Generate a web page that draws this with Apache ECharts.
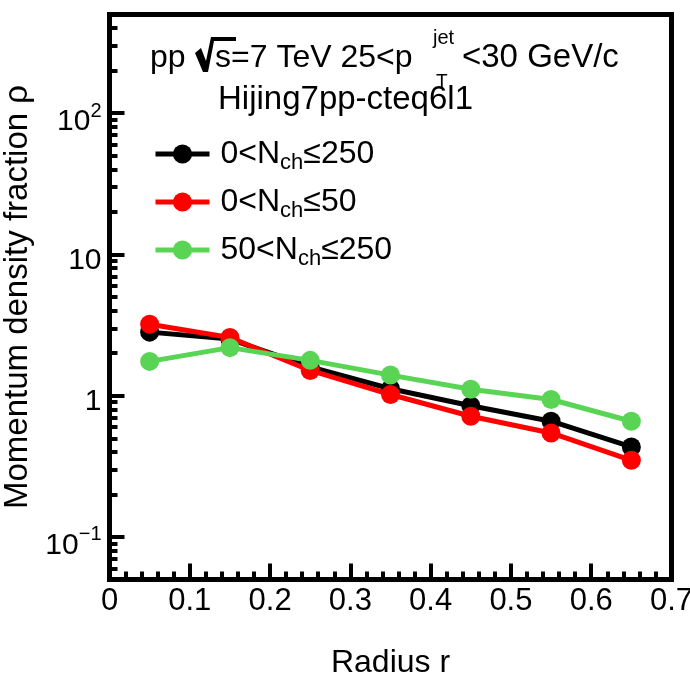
<!DOCTYPE html>
<html><head><meta charset="utf-8">
<script src="https://cdn.jsdelivr.net/npm/echarts@6/dist/echarts.min.js"></script>
<style>html,body{margin:0;padding:0;background:#fff}#c{width:690px;height:675px}</style>
</head><body><div id="c"></div>
<script>
// ---- data ----
const radius = [0.05, 0.15, 0.25, 0.35, 0.45, 0.55, 0.65];
const rhoAll  = [2.82, 2.52, 1.60, 1.12, 0.85, 0.66, 0.434];   // 0<Nch<=250
const rhoLow  = [3.21, 2.58, 1.51, 1.02, 0.716, 0.545, 0.349]; // 0<Nch<=50
const rhoHigh = [1.75, 2.19, 1.78, 1.40, 1.11, 0.94, 0.66];    // 50<Nch<=250
const seriesNames = ['0<Nch≤250', '0<Nch≤50', '50<Nch≤250'];
const legendLabels = ['0<N{sub|ch}≤250', '0<N{sub|ch}≤50', '50<N{sub|ch}≤250'];
const seriesColors = ['#000000', '#ff0000', '#59d454'];
const yMajorTicks = [0.1, 1, 10, 100];
const yMinorTicks = [0.05, 0.06, 0.07, 0.08, 0.09,
  0.2, 0.3, 0.4, 0.5, 0.6, 0.7, 0.8, 0.9,
  2, 3, 4, 5, 6, 7, 8, 9,
  20, 30, 40, 50, 60, 70, 80, 90,
  200, 300, 400, 500];
const yTickLabels = {'-1': '{m2|10}{sup|−1}', '0': '{m|1}', '1': '{m|10}', '2': '{m2|10}{sup|2}'};

const FONT = 'Liberation Sans';
const chart = echarts.init(document.getElementById('c'), null, {renderer: 'canvas'});

function pairs(ys) { return radius.map((x, i) => [x, ys[i]]); }
const allSeries = [rhoAll, rhoLow, rhoHigh].map((ys, i) => ({
  name: seriesNames[i],
  type: 'line',
  data: pairs(ys),
  symbol: 'circle',
  symbolSize: 19,
  showSymbol: true,
  lineStyle: {width: 5, color: seriesColors[i]},
  itemStyle: {color: seriesColors[i]},
  emphasis: {disabled: true},
  z: 3 + i
}));

const legendMap = {};
seriesNames.forEach((n, i) => legendMap[n] = legendLabels[i]);

function txt(x, y, s, size) {
  return {type: 'text', x: x, y: y, style: {text: s, font: size + 'px "Liberation Sans"', fill: '#000', align: 'left', verticalAlign: 'middle'}};
}

chart.setOption({
  animation: false,
  backgroundColor: '#fff',
  grid: {
    left: 109.5, right: 18.5, top: 14.5, bottom: 95.5,
    show: true, borderColor: '#000', borderWidth: 5, backgroundColor: 'transparent',
    outerBoundsMode: 'none'
  },
  legend: {
    orient: 'vertical', left: 153, top: 138, padding: 0,
    itemWidth: 54, itemHeight: 24, itemGap: 12,
    data: seriesNames,
    formatter: n => legendMap[n],
    lineStyle: {width: 5},
    textStyle: {
      fontFamily: FONT, fontSize: 32, color: '#000', padding: [0, 0, 0, 6],
      rich: {sub: {fontFamily: FONT, fontSize: 22, color: '#000', padding: [18, 0, 0, 0]}}
    },
    selectedMode: false
  },
  xAxis: {
    type: 'value', min: 0, max: 0.7, interval: 0.1,
    axisLine: {show: true, onZero: false, lineStyle: {color: '#000', width: 5}},
    axisTick: {show: true, inside: true, length: 16, lineStyle: {color: '#000', width: 4}},
    minorTick: {show: true, splitNumber: 5, length: 8, lineStyle: {color: '#000', width: 4}},
    splitLine: {show: false},
    axisLabel: {
      fontFamily: FONT, fontSize: 31, color: '#000', margin: 6,
      formatter: v => (Math.abs(v) < 1e-9 ? '0' : v.toFixed(1))
    },
    name: 'Radius r', nameLocation: 'middle', nameGap: 68,
    nameTextStyle: {fontFamily: FONT, fontSize: 32, color: '#000'}
  },
  yAxis: [{
    type: 'log', logBase: 10, min: 0.05, max: 500,
    axisLine: {show: true, onZero: false, lineStyle: {color: '#000', width: 5}},
    axisTick: {show: true, inside: true, length: 15, customValues: yMajorTicks, lineStyle: {color: '#000', width: 4}},
    splitLine: {show: false},
    axisLabel: {
      customValues: yMajorTicks, margin: 8, color: '#000',
      formatter: v => yTickLabels[String(Math.round(Math.log10(v)))] || '',
      rich: {
        m: {fontFamily: FONT, fontSize: 30, color: '#000', padding: [12, 0, 0, 0]},
        m2: {fontFamily: FONT, fontSize: 30, color: '#000', padding: [18, 0, 0, 0]},
        sup: {fontFamily: FONT, fontSize: 20, color: '#000', padding: [0, 0, 4, 0]}
      }
    },
    name: 'Momentum density fraction ρ', nameLocation: 'middle', nameGap: 72,
    nameTextStyle: {fontFamily: FONT, fontSize: 33, color: '#000'}
  }, {
    type: 'log', logBase: 10, min: 0.05, max: 500, position: 'left',
    axisLine: {show: false},
    axisTick: {show: true, inside: true, length: 8, customValues: yMinorTicks, lineStyle: {color: '#000', width: 4}},
    axisLabel: {show: false},
    splitLine: {show: false}
  }],
  series: allSeries,
  graphic: [
    txt(150, 58, 'pp', 32),
    {type: 'polygon', shape: {points: [[195, 53], [201, 48], [206, 61], [211, 37], [236, 37], [236, 41], [214, 41], [208, 72], [203, 72]]}, style: {fill: '#000'}},
    txt(215, 58, 's=7 TeV 25<p', 32),
    txt(433, 38, 'jet', 20),
    txt(436, 82, 'T', 19),
    txt(462, 58, '<30 GeV/c', 33),
    txt(218, 100, 'Hijing7pp-cteq6l1', 33)
  ]
});
</script></body></html>
